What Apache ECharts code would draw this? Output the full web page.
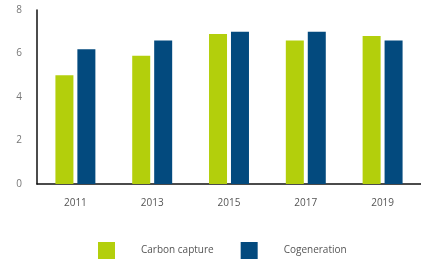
<!DOCTYPE html>
<html>
<head>
<meta charset="utf-8">
<script src="https://cdn.jsdelivr.net/npm/echarts@6/dist/echarts.min.js"></script>
<style>
html,body{margin:0;padding:0;background:#fff;}
#chart{width:421px;height:262px;}
</style>
</head>
<body>
<div id="chart"></div>
<script>
var years = ['2011', '2013', '2015', '2017', '2019'];
var carbonCapture = [5.0, 5.9, 6.9, 6.6, 6.8];
var cogeneration = [6.2, 6.6, 7.0, 7.0, 6.6];
var yTicks = [0, 2, 4, 6, 8];

var chart = echarts.init(document.getElementById('chart'));
var option = {
  animation: false,
  grid: {
    left: 37,
    top: 10,
    width: 395,
    height: 174
  },
  legend: {
    bottom: 3,
    left: 98,
    padding: 0,
    itemWidth: 17,
    itemHeight: 17,
    itemGap: 27,
    icon: 'rect',
    textStyle: {
      fontFamily: 'Open Sans',
      fontSize: 10,
      color: '#555',
      padding: [0, 0, 0, 21]
    },
    data: ['Carbon capture', 'Cogeneration']
  },
  xAxis: {
    type: 'category',
    data: years,
    axisLine: {lineStyle: {color: '#111', width: 1.5}},
    axisTick: {show: false},
    axisLabel: {
      margin: 14,
      fontFamily: 'Open Sans',
      fontSize: 10,
      color: '#555'
    }
  },
  yAxis: {
    type: 'value',
    min: yTicks[0],
    max: yTicks[yTicks.length - 1],
    interval: 2,
    axisLine: {show: true, lineStyle: {color: '#111', width: 1.5}},
    axisTick: {show: false},
    splitLine: {show: false},
    axisLabel: {
      margin: 15,
      fontFamily: 'Open Sans',
      fontSize: 10,
      color: '#777'
    }
  },
  series: [
    {
      name: 'Carbon capture',
      type: 'bar',
      data: carbonCapture,
      barWidth: 18,
      barGap: '22%',
      itemStyle: {color: '#b3cf0c'}
    },
    {
      name: 'Cogeneration',
      type: 'bar',
      data: cogeneration,
      barWidth: 18,
      itemStyle: {color: '#034a7e'}
    }
  ]
};
chart.setOption(option);
</script>
</body>
</html>
